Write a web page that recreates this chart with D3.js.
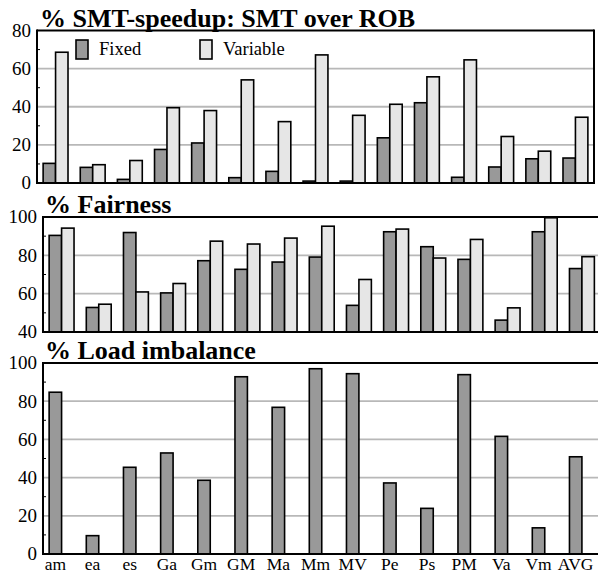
<!DOCTYPE html>
<html><head><meta charset="utf-8">
<script src="https://cdn.jsdelivr.net/npm/d3@7"></script>
<style>body{margin:0;background:#fff}svg{display:block}</style>
</head><body>
<svg id="c" width="598" height="575" font-family="'Liberation Serif', 'Times New Roman', Times, 'DejaVu Serif', serif"></svg>
<script>
const categories = ["am","ea","es","Ga","Gm","GM","Ma","Mm","MV","Pe","Ps","PM","Va","Vm","AVG"];
const seriesNames = ["Fixed","Variable"];
const speedupFixed = [10.3,8.2,1.9,17.6,21,2.8,6.1,1.0,1.0,23.7,42.1,3.0,8.4,12.7,13.1];
const speedupVariable = [68.6,9.6,11.8,39.5,38,54.1,32.2,67.2,35.5,41.3,55.7,64.6,24.4,16.7,34.5];
const fairFixed = [90.4,52.8,91.9,60.4,77.2,72.7,76.5,79.1,53.9,92.3,84.5,77.9,46.2,92.3,73.1];
const fairVariable = [94.2,54.5,60.9,65.3,87.4,85.9,89.0,95.2,67.4,93.7,78.6,88.3,52.6,99.6,79.3];
const loadImbalance = [84.7,9.6,45.4,52.9,38.6,92.8,76.8,97.0,94.4,37.2,23.9,93.9,61.6,13.7,50.9];
const ticks1 = [0,20,40,60,80];
const ticks2 = [40,60,80,100];
const ticks3 = [0,20,40,60,80,100];
const titles = ["% SMT-speedup: SMT over ROB","% Fairness","% Load imbalance"];

const svg = d3.select("#c");
const colors = ["#999999","#e6e6e6"];

function panel(opt){
  const g = svg.append("g");
  const x = d3.scaleBand().domain(categories).range([opt.x0,opt.x1]).paddingInner(0.33).paddingOuter(0.165);
  const y = d3.scaleLinear().domain(opt.domain).range([opt.yb,opt.yt]);
  g.selectAll(".grid").data(opt.ticks.filter(t=>t!==opt.domain[0]&&t!==opt.domain[1])).enter()
    .append("line").attr("x1",opt.x0).attr("x2",opt.xr).attr("y1",d=>y(d)).attr("y2",d=>y(d))
    .attr("stroke","#b8b8b8").attr("stroke-width",1.8);
  const bw = x.bandwidth()/2;
  opt.series.forEach((vals,si)=>{
    g.selectAll(".b"+si).data(vals).enter().append("rect")
      .attr("x",(d,i)=>x(categories[i])+si*bw)
      .attr("y",d=>y(d))
      .attr("width",bw)
      .attr("height",d=>opt.yb-y(d))
      .attr("fill",colors[si]).attr("stroke","#000").attr("stroke-width",1.6);
  });
  const minor = d3.range(opt.domain[0]+10, opt.domain[1], 20);
  g.selectAll(".mt").data(minor).enter().append("line")
    .attr("x1",opt.x0).attr("x2",opt.x0+3).attr("y1",d=>y(d)).attr("y2",d=>y(d))
    .attr("stroke","#000").attr("stroke-width",1);
  g.append("line").attr("x1",opt.x0).attr("x2",opt.xr).attr("y1",opt.yt).attr("y2",opt.yt).attr("stroke","#000").attr("stroke-width",2);
  g.append("line").attr("x1",opt.x0-1).attr("x2",opt.xr).attr("y1",opt.yb).attr("y2",opt.yb).attr("stroke","#000").attr("stroke-width",2);
  g.append("line").attr("x1",opt.x0).attr("x2",opt.x0).attr("y1",opt.yt-1).attr("y2",opt.yb+1).attr("stroke","#000").attr("stroke-width",2);
  if(opt.rightBorder) g.append("line").attr("x1",opt.xr).attr("x2",opt.xr).attr("y1",opt.yt-1).attr("y2",opt.yb+1).attr("stroke","#000").attr("stroke-width",2);
  g.selectAll(".tl").data(opt.ticks).enter().append("text")
    .attr("x",opt.x0-6).attr("y",d=>y(d)).attr("dy","0.34em")
    .attr("text-anchor","end").attr("font-size",19).text(d=>d);
  g.append("text").attr("x",opt.titleX).attr("y",opt.titleY).attr("font-size",26).attr("font-weight","bold").text(opt.title);
  return {g,x,y,bw};
}

panel({x0:37,x1:594,xr:594,yt:30.5,yb:183,domain:[0,80],ticks:ticks1,series:[speedupFixed,speedupVariable],rightBorder:true,title:titles[0],titleX:40,titleY:26.5});
panel({x0:43,x1:600.5,xr:600,yt:217,yb:332,domain:[40,100],ticks:ticks2,series:[fairFixed,fairVariable],title:titles[1],titleX:45,titleY:212.5});
const p3 = panel({x0:43,x1:600.5,xr:600,yt:363,yb:554,domain:[0,100],ticks:ticks3,series:[loadImbalance],title:titles[2],titleX:45,titleY:358.5});
p3.g.selectAll(".cl").data(categories).enter().append("text")
  .attr("x",d=>p3.x(d)+p3.bw/2).attr("y",570).attr("text-anchor","middle").attr("font-size",17.5).text(d=>d);

const leg = svg.append("g");
const legX = [76,200];
seriesNames.forEach((n,i)=>{
  leg.append("rect").attr("x",legX[i]).attr("y",40).attr("width",12).attr("height",19).attr("fill",colors[i]).attr("stroke","#000").attr("stroke-width",1.6);
  leg.append("text").attr("x",legX[i]+23).attr("y",55).attr("font-size",18.5).text(n);
});
</script>
</body></html>
